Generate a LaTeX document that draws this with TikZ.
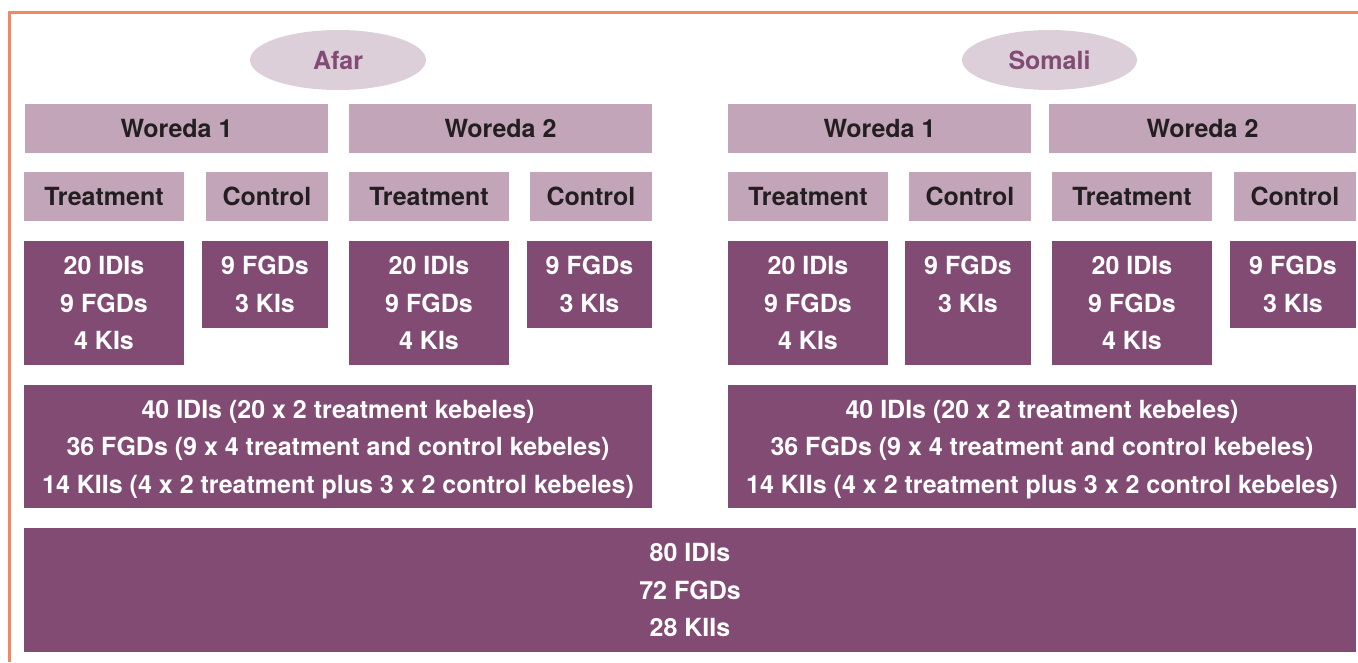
\documentclass[tikz,border=0pt]{standalone}
\usepackage{fontspec}
\setmainfont{TeX Gyre Heros}
\usepackage{tikz}
\usetikzlibrary{shapes.geometric}
\usepackage{xcolor}

\definecolor{plum}{RGB}{130,75,115}
\definecolor{mauve}{RGB}{195,165,185}
\definecolor{blush}{RGB}{221,207,217}
\definecolor{ink}{RGB}{35,31,32}
\definecolor{frameorange}{RGB}{245,135,95}

\tikzset{
  region/.style={ellipse, fill=blush, text=plum, minimum width=176pt, minimum height=60pt, inner sep=0pt},
  header/.style={fill=mauve, text=ink, minimum height=49pt, inner sep=0pt},
  tally/.style={fill=plum, text=white, align=center, inner sep=0pt},
}

\begin{document}
\begin{tikzpicture}[x=1pt, y=-1pt,
    every node/.style={font=\fontsize{25}{37.5}\selectfont\bfseries}]
                \useasboundingbox (0,0) rectangle (1358,662);

                % Frame (top and left)
                \draw[frameorange, line width=3pt] (9.5,662) -- (9.5,12) -- (1358,12);

                % Regions
                \node[region] (afar) at (338,60) {Afar};
                \node[region, minimum width=175pt] (somali) at (1049.5,60) {Somali};

                % Woredas
                \node[header, minimum width=303pt] (afarWone) at (176.5,128.5) {Woreda 1};
                \node[header, minimum width=303pt] (afarWtwo) at (500.5,128.5) {Woreda 2};
                \node[header, minimum width=303pt] (somWone) at (879.5,128.5) {Woreda 1};
                \node[header, minimum width=307pt] (somWtwo) at (1202.5,128.5) {Woreda 2};

                % Treatment / control arms
                \node[header, minimum width=160pt] (afarWoneT) at (104,196.5) {Treatment};
                \node[header, minimum width=122pt] (afarWoneC) at (267,196.5) {Control};
                \node[header, minimum width=160pt] (afarWtwoT) at (429,196.5) {Treatment};
                \node[header, minimum width=122pt] (afarWtwoC) at (591,196.5) {Control};
                \node[header, minimum width=160pt] (somWoneT) at (808,196.5) {Treatment};
                \node[header, minimum width=122pt] (somWoneC) at (970,196.5) {Control};
                \node[header, minimum width=160pt] (somWtwoT) at (1132,196.5) {Treatment};
                \node[header, minimum width=122pt] (somWtwoC) at (1295,196.5) {Control};

                % Interviews per kebele
                \node[tally, minimum width=160pt, minimum height=124pt] (afarWoneTn) at (104,303) {20 IDIs\\9 FGDs\\4 KIs};
                \node[tally, minimum width=126pt, minimum height=87pt] (afarWoneCn) at (265,284.5) {9 FGDs\\3 KIs};
                \node[tally, minimum width=160pt, minimum height=124pt] (afarWtwoTn) at (429,303) {20 IDIs\\9 FGDs\\4 KIs};
                \node[tally, minimum width=125pt, minimum height=87pt] (afarWtwoCn) at (589.5,284.5) {9 FGDs\\3 KIs};
                \node[tally, minimum width=160pt, minimum height=124pt] (somWoneTn) at (808,303) {20 IDIs\\9 FGDs\\4 KIs};
                \node[tally, minimum width=126pt, minimum height=124pt] (somWoneCn) at (968,303) {9 FGDs\\3 KIs\\\phantom{0}};
                \node[tally, minimum width=160pt, minimum height=124pt] (somWtwoTn) at (1132,303) {20 IDIs\\9 FGDs\\4 KIs};
                \node[tally, minimum width=126pt, minimum height=87pt] (somWtwoCn) at (1293,284.5) {9 FGDs\\3 KIs};

                % Region totals
                \node[tally, text depth=0pt, minimum width=628pt, minimum height=123pt] (afarsum) at (338,446.5)
                  {40 IDIs (20 x 2 treatment kebeles)\\36 FGDs (9 x 4 treatment and control kebeles)\\14 KIIs (4 x 2 treatment plus 3 x 2 control kebeles)};
                \node[tally, text depth=0pt, minimum width=628pt, minimum height=123pt] (somsum) at (1042,446.5)
                  {40 IDIs (20 x 2 treatment kebeles)\\36 FGDs (9 x 4 treatment and control kebeles)\\14 KIIs (4 x 2 treatment plus 3 x 2 control kebeles)};

                % Grand total
                \node[tally, minimum width=1332pt, minimum height=124pt] (total) at (690,590) {80 IDIs\\72 FGDs\\28 KIIs};
            \end{tikzpicture}
\end{document}
